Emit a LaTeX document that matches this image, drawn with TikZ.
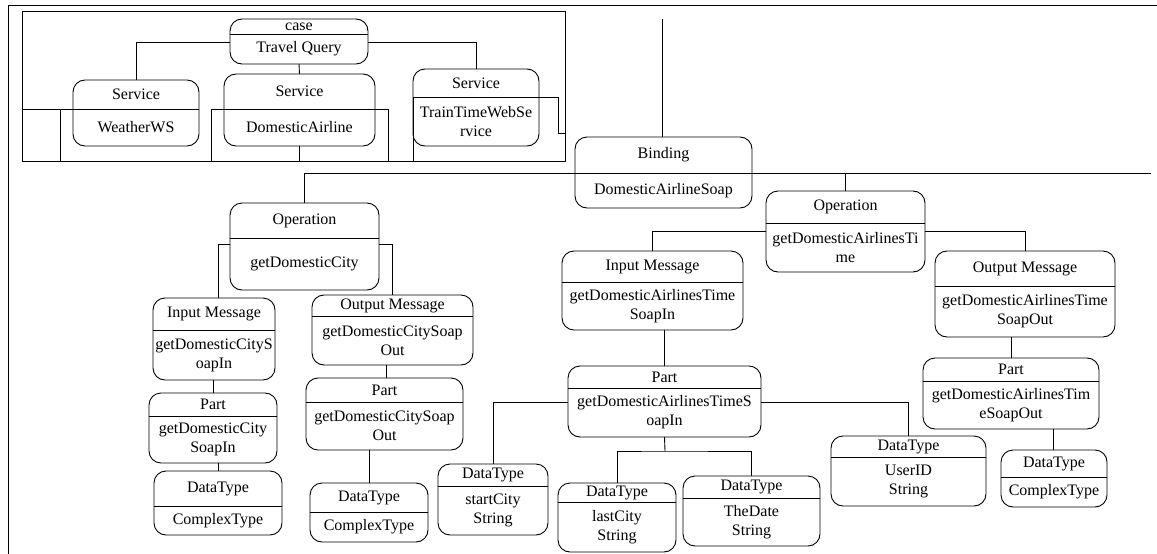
\documentclass[tikz,border=0pt]{standalone}
\usepackage{fontspec}
\setmainfont{Liberation Serif}
\usetikzlibrary{fit,calc}
\tikzset{
  umlbox/.style={draw, line width=0.9pt, rounded corners=12pt, inner sep=0pt, outer sep=0pt},
  conn/.style={line width=0.9pt},
  lbl/.style={font=\fontsize{16}{19}\selectfont, inner sep=0pt, align=center},
}
\newcommand\ubox[8]{%
  \coordinate (#1-nw) at (#2,#3);
  \coordinate (#1-se) at (#4,#5);
  \node[umlbox, fit=(#1-nw)(#1-se)] (#1) {};
  \draw[conn] (#2,#6) -- (#4,#6);
  \node[lbl] (#1-h) at ($(#2,#3)!.5!(#4,#6)$) {#7};
  \node[lbl] (#1-b) at ($(#2,#6)!.5!(#4,#5)$) {#8};
}
\begin{document}
\begin{tikzpicture}[x=1pt,y=-1pt]
\useasboundingbox (0,0) rectangle (1157,554);
% outer frame lines
\draw[conn] (8,554) -- (8,5) -- (1157,5);
% inner frame
\draw[conn] (22,11) rectangle (565,161);

% --- inner box nodes
\ubox{cs}{230}{19}{368}{64}{34}{case}{Travel Query}
\ubox{ww}{73}{80}{199}{146}{109}{Service}{WeatherWS}
\ubox{da}{224}{74}{375}{146}{109}{Service}{DomesticAirline}
\ubox{tt}{413}{69}{539}{146}{97}{Service}{TrainTimeWebSe\\rvice}

\draw[conn] (cs.west |- 0,42) -| (ww.north);
\draw[conn] (cs.south) -- (da.north);
\draw[conn] (cs.east |- 0,42) -| (tt.north);
\draw[conn] (22,109) -- (ww.west |- 0,109);
\draw[conn] (60,109) -- (60,161);
\draw[conn] (211,161) -- (211,109) -- (da.west |- 0,109);
\draw[conn] (da.east |- 0,109) -- (388,109) -- (388,161);
\draw[conn] (da.south) -- (da.south |- 0,161);
\draw[conn] (413,97) -- (413,161);
\draw[conn] (tt.east |- 0,97) -- (558,97) -- (558,133) -- (565,133);

% --- binding
\ubox{bind}{575}{137}{752}{208}{173}{Binding}{DomesticAirlineSoap}
\coordinate (bindTop) at (662,19);
\coordinate (bindEnd) at (1151,173);
\draw[conn] (bindTop) -- (bind.north -| bindTop);

% --- left operation
\ubox{opL}{230}{203}{379}{290}{238}{Operation}{getDomesticCity}
\draw[conn] (opL.north) |- (bindEnd);

\ubox{inL}{153}{298}{275}{380}{330}{Input Message}{getDomesticCityS\\oapIn}
\ubox{partL}{149}{393}{277}{463}{416}{Part}{getDomesticCity\\SoapIn}
\ubox{dtL}{154}{471}{282}{535}{506}{DataType}{ComplexType}
\ubox{outL}{312}{295}{473}{365}{316}{Output Message}{getDomesticCitySoap\\Out}
\ubox{partL2}{306}{378}{463}{450}{402}{Part}{getDomesticCitySoap\\Out}
\ubox{dtL2}{310}{483}{428}{542}{512}{DataType}{ComplexType}

\draw[conn] (opL.west |- 0,244) -| (218,0 |- inL.north);
\draw[conn] (opL.east |- 0,244) -| (outL.north);
\draw[conn] (213,0 |- inL.south) -- (213,0 |- partL.north);
\draw[conn] (218,0 |- partL.south) -- (218,0 |- dtL.north);
\draw[conn] (386,0 |- outL.south) -- (386,0 |- partL2.north);
\draw[conn] (369,0 |- partL2.south) -- (369,0 |- dtL2.north);

% --- right operation
\ubox{opR}{766}{191}{925}{272}{223}{Operation}{getDomesticAirlinesTi\\me}
\draw[conn] (opR.north) -- (opR.north |- bindEnd);

\ubox{inM}{562}{251}{743}{330}{282}{Input Message}{getDomesticAirlinesTime\\SoapIn}
\ubox{partM}{568}{366}{761}{437}{388}{Part}{getDomesticAirlinesTimeS\\oapIn}
\ubox{sc}{438}{464}{548}{535}{486}{DataType}{startCity\\String}
\ubox{lc}{558}{483}{676}{552}{502}{DataType}{lastCity\\String}
\ubox{td}{683}{476}{820}{546}{498}{DataType}{TheDate\\String}
\ubox{uid}{831}{436}{986}{506}{457}{DataType}{UserID\\String}
\ubox{outR}{935}{251}{1115}{337}{286}{Output Message}{getDomesticAirlinesTime\\SoapOut}
\ubox{partR}{923}{358}{1099}{429}{381}{Part}{getDomesticAirlinesTim\\eSoapOut}
\ubox{dtR}{1001}{450}{1107}{507}{477}{DataType}{ComplexType}

\draw[conn] (opR.west |- 0,231) -| (inM.north);
\draw[conn] (opR.east |- 0,231) -| (outR.north);
\draw[conn] (inM.south -| partM.north) -- (partM.north);
\draw[conn] (partM.west |- 0,402) -| (sc.north);
\draw[conn] (partM.east |- 0,402) -| (uid.north);
\coordinate (split) at (665,451);
\draw[conn] (partM.south) -- (split);
\draw[conn] (lc.north) |- (split) -| (td.north);
\draw[conn] (outR.south -| partR.north) -- (partR.north);
\draw[conn] (1053,0 |- partR.south) -- (1053,0 |- dtR.north);
\end{tikzpicture}
\end{document}
